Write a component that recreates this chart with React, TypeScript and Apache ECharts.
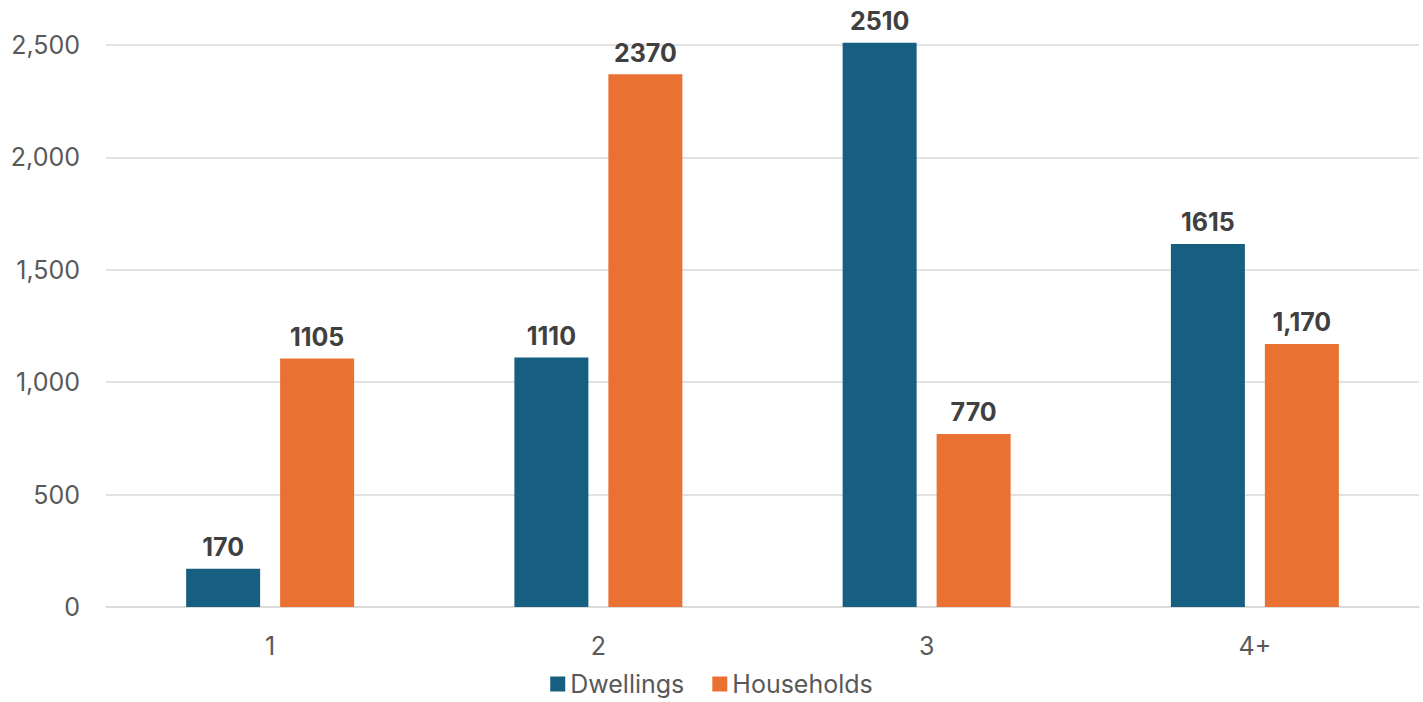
import React, { useEffect, useRef } from "react";
import * as echarts from "echarts";

// Number of bedrooms
const categories = ["1", "2", "3", "4+"];
const dwellings = [170, 1110, 2510, 1615];
const households = [1105, 2370, 770, 1170];
// Which value labels are printed with a thousands separator
const dwellingsGrouped = [false, false, false, false];
const householdsGrouped = [false, false, false, true];
const yTicks = { min: 0, max: 2500, interval: 500 };

const BLUE = "#175f80";
const ORANGE = "#e97132";
const FONT = "Inter, 'Liberation Sans', Arial, sans-serif";

export default function App() {
  const ref = useRef<HTMLDivElement>(null);

  useEffect(() => {
    if (!ref.current) return;
    const chart = echarts.init(ref.current, undefined, { renderer: "svg" });
    const grouped = [dwellingsGrouped, householdsGrouped];
    const labelFormatter = (p: any) =>
      grouped[p.seriesIndex][p.dataIndex]
        ? Number(p.value).toLocaleString("en-US")
        : String(p.value);
    const valueLabel = {
      show: true,
      position: "top" as const,
      distance: 9,
      color: "#404040",
      fontSize: 25,
      fontWeight: "bold" as const,
      fontFamily: FONT,
      formatter: labelFormatter,
    };
    chart.setOption({
      animation: false,
      textStyle: { fontFamily: FONT },
      grid: { left: 106, right: 4, top: 45, bottom: 95, containLabel: false },
      legend: {
        top: 670,
        left: "center",
        icon: "rect",
        itemWidth: 15,
        itemHeight: 15,
        itemGap: 28,
        padding: 0,
        textStyle: { color: "#595959", fontSize: 25, fontFamily: FONT, lineHeight: 28 },
        data: ["Dwellings", "Households"],
      },
      xAxis: {
        type: "category",
        data: categories,
        axisTick: { show: false },
        axisLine: { show: true, lineStyle: { color: "#d9d9d9", width: 1.5 } },
        axisLabel: { color: "#595959", fontSize: 25, margin: 26, fontFamily: FONT },
      },
      yAxis: {
        type: "value",
        min: yTicks.min,
        max: yTicks.max,
        interval: yTicks.interval,
        axisLine: { show: false },
        axisTick: { show: false },
        splitLine: { lineStyle: { color: "#d9d9d9", width: 1.5 } },
        axisLabel: {
          color: "#595959",
          fontSize: 25,
          margin: 26,
          fontFamily: FONT,
          formatter: (v: number) => v.toLocaleString("en-US"),
        },
      },
      series: [
        {
          name: "Dwellings",
          type: "bar",
          data: dwellings,
          barWidth: 74,
          barGap: "27%",
          clip: false,
          itemStyle: { color: BLUE },
          label: valueLabel,
        },
        {
          name: "Households",
          type: "bar",
          data: households,
          barWidth: 74,
          clip: false,
          itemStyle: { color: ORANGE },
          label: valueLabel,
        },
      ],
    });
    return () => chart.dispose();
  }, []);

  return (
    <div
      ref={ref}
      style={{ position: "fixed", left: 0, top: 0, width: 1423, height: 702, background: "#fff" }}
    />
  );
}
